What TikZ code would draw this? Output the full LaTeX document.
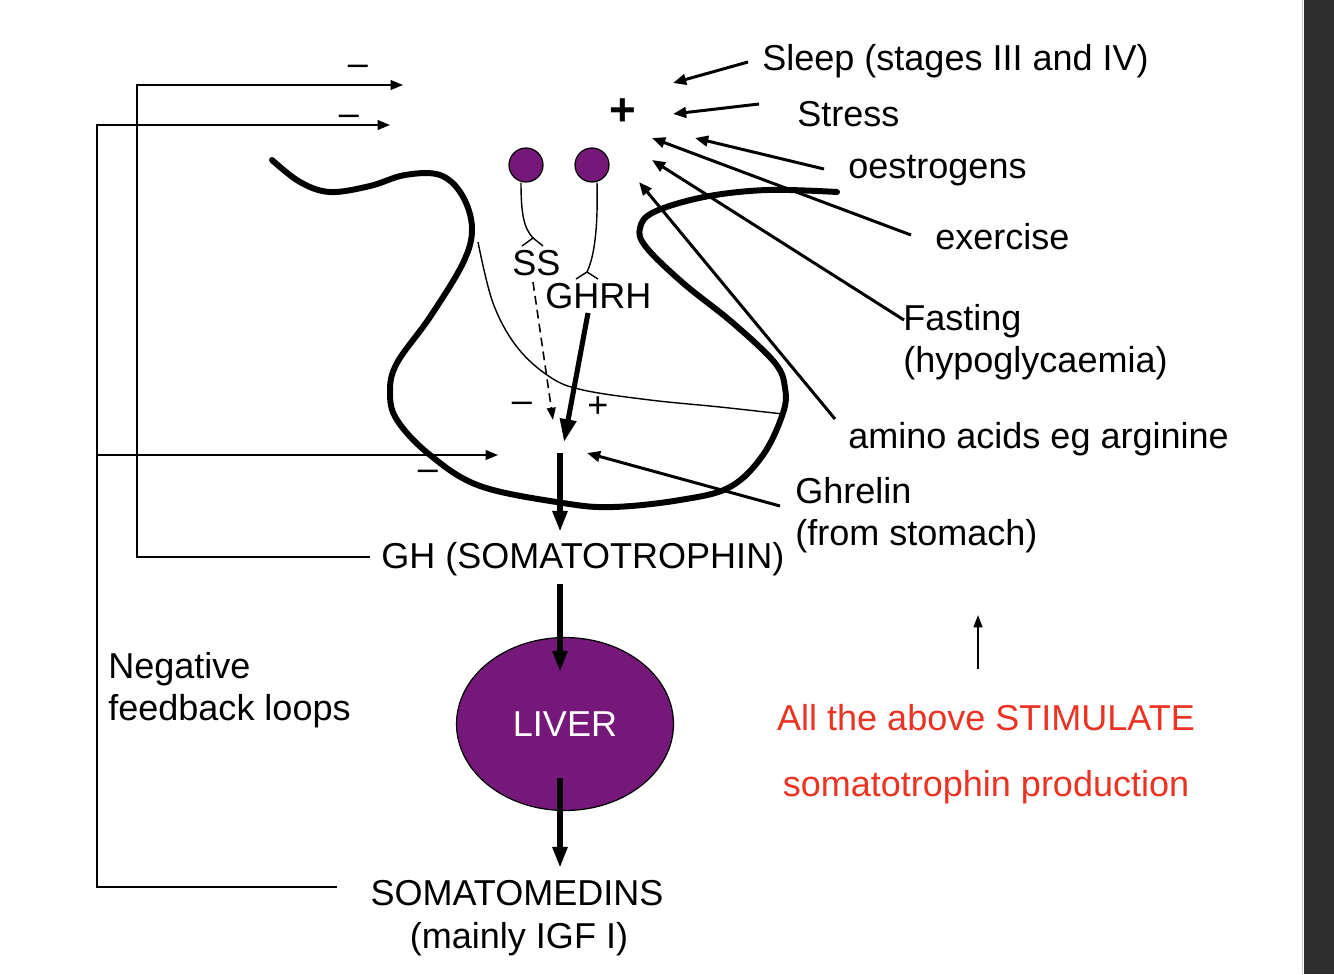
\documentclass[tikz,border=0pt]{standalone}
\usepackage{fontspec}
\setmainfont{Liberation Sans}
\usetikzlibrary{arrows.meta,shapes.geometric}
\definecolor{purp}{RGB}{118,24,122}
\definecolor{redtxt}{RGB}{235,51,36}
\definecolor{barcol}{RGB}{45,45,45}
\definecolor{baredge}{RGB}{200,200,200}
\begin{document}
\begin{tikzpicture}[x=0.02cm,y=-0.02cm,
  txt/.style={font=\fontsize{20.5}{24}\selectfont, inner sep=0pt},
  lbl/.style={txt, anchor=base west},
  lblc/.style={txt, anchor=base},
  stim/.style={line width=1.7pt, -{Triangle[length=7.5pt,width=6pt]}},
  fb/.style={line width=1pt, -{Triangle[length=7pt,width=5.5pt]}},
  outline/.style={line width=3.4pt, line cap=round, line join=round},
  thinline/.style={line width=0.8pt},
  bigarrow/.style={line width=3.4pt, -{Triangle[length=12pt,width=8pt]}},
  cell/.style={circle, fill=purp, draw=black, line width=0.7pt, minimum size=0.68cm, inner sep=0pt},
  plus/.style={font=\fontsize{26}{30}\selectfont\bfseries, inner sep=0pt, anchor=base},
]
\useasboundingbox (0,0) rectangle (1334,974);
\fill[white] (0,0) rectangle (1334,974);
% right dark bar
\fill[barcol] (1304,0) rectangle (1334,974);
\draw[baredge, line width=0.6pt] (1302.5,0) -- (1302.5,974);

% ---------- outline of hypothalamus / pituitary ----------
\draw[outline] plot[smooth, tension=0.6] coordinates {
 (272,160) (300,182) (330,192) (370,186) (405,175) (440,175) (462,195)
 (472,228) (463,263) (430,317) (397,363) (390,392) (397,420) (430,455)
 (480,486) (563,503) (613,507) (680,500) (730,487) (763,455) (783,413)
 (785,388) (775,363) (733,323) (683,283) (646,247) (640,228) (654,212)
 (704,197) (767,190) (837,192)};
% thin stalk line
\draw[thinline] plot[smooth, tension=0.6] coordinates {
 (478,242) (493,303) (517,347) (550,377) (583,390) (650,400) (720,407) (783,414)};

% ---------- neurons ----------
\node[cell] (n1) at (526,165) {};
\node[cell] (n2) at (592,165) {};
\coordinate (a1) at (533,238);
\coordinate (a2) at (587,272);
\draw[thinline] (n1.south) ++(-5,0) .. controls (521,215) and (524,228) .. (a1);
\draw[thinline] (522,246) -- (a1) -- (543,246);
\draw[thinline] (n2.south) ++(5,0) .. controls (598,225) and (595,255) .. (a2);
\draw[thinline] (576,279) -- (a2) -- (598,279);

\node[lbl] (ss) at (512,275) {SS};
\node[lbl] (ghrh) at (545,308) {GHRH};

% SS dashed and GHRH thick arrows
\coordinate (ssS) at (533,282);
\coordinate (ssE) at (553,420);
\draw[line width=0.9pt, dash pattern=on 5pt off 3pt, -{Triangle[length=7pt,width=5pt]}] (ssS) -- (ssE);
\coordinate (ghrhS) at (588,313);
\coordinate (ghrhE) at (564,442);
\draw[line width=2.9pt, -{Triangle[length=13pt,width=9pt]}] (ghrhS) -- (ghrhE);

\node[txt, anchor=base] (m1) at (522,412) {–};
\node[txt, anchor=base] (p1) at (598,417) {+};

% ---------- stimuli ----------
\node[plus] (plus) at (623,125) {+};
\node[lbl] (sleep) at (762,70) {Sleep (stages III and IV)};
\node[lbl] (stress) at (797,126) {Stress};
\node[lbl] (oest) at (848,178) {oestrogens};
\node[lbl] (exer) at (935,249) {exercise};
\node[lbl] (fast) at (903,330) {Fasting};
\node[lbl] (hypo) at (903,372) {(hypoglycaemia)};
\node[lbl] (amino) at (848,448) {amino acids eg arginine};
\node[lbl] (ghrelin) at (795,503) {Ghrelin};
\node[lbl] (stomach) at (795,545) {(from stomach)};

\coordinate (sleepS) at (748,62);  \coordinate (sleepE) at (673,83);
\coordinate (stressS) at (759,104); \coordinate (stressE) at (673,114);
\coordinate (oestS) at (824,169);  \coordinate (oestE) at (695,138);
\coordinate (exerS) at (911,235);  \coordinate (exerE) at (652,138);
\coordinate (fastS) at (904,320);  \coordinate (fastE) at (652,160);
\coordinate (aminoS) at (835,419); \coordinate (aminoE) at (639,182);
\coordinate (ghrelS) at (780,506); \coordinate (ghrelE) at (587,453);
\draw[stim] (sleepS) -- (sleepE);
\draw[stim] (stressS) -- (stressE);
\draw[stim] (oestS) -- (oestE);
\draw[stim] (exerS) -- (exerE);
\draw[stim] (fastS) -- (fastE);
\draw[stim] (aminoS) -- (aminoE);
\draw[stim] (ghrelS) -- (ghrelE);

% ---------- main cascade ----------
\node[lbl] (gh) at (381,568) {GH (SOMATOTROPHIN)};
\node[ellipse, fill=purp, draw=black, line width=0.7pt, minimum width=4.34cm,
      minimum height=3.46cm, inner sep=0pt, text=white,
      font=\fontsize{20.5}{24}\selectfont] (liver) at (565,724) {LIVER};
\node[lblc] (somato) at (517,905) {SOMATOMEDINS};
\node[lblc] (igf) at (519,948) {(mainly IGF I)};

\coordinate (g1S) at (560,453); \coordinate (g1E) at (560,532);
\coordinate (g2S) at (560,584); \coordinate (g2E) at (560,672);
\coordinate (g3S) at (560,778); \coordinate (g3E) at (560,868);
\draw[bigarrow] (g1S) -- (g1E);
\draw[bigarrow] (g2S) -- (g2E);
\draw[bigarrow] (g3S) -- (g3E);

% ---------- negative feedback ----------
\coordinate (fbAs) at (337,887); \coordinate (fbAc) at (97,125); \coordinate (fbAe) at (390,125);
\coordinate (fbBs) at (370,557); \coordinate (fbBc) at (137,85); \coordinate (fbBe) at (403,85);
\coordinate (fbCs) at (97,455);  \coordinate (fbCe) at (498,455);
\draw[fb] (fbAs) -| (fbAc) -- (fbAe);
\draw[fb] (fbBs) -| (fbBc) -- (fbBe);
\draw[fb] (fbCs) -- (fbCe);
\node[txt, anchor=base] (m2) at (358,75) {–};
\node[txt, anchor=base] (m3) at (349,125) {–};
\node[txt, anchor=base] (m4) at (428,480) {–};

\node[lbl] (neg) at (108,678) {Negative};
\node[lbl] (fbl) at (108,720) {feedback loops};

% ---------- summary ----------
\coordinate (upS) at (978,669); \coordinate (upE) at (978,615);
\draw[line width=1pt, -{Triangle[length=7pt,width=5pt]}] (upS) -- (upE);
\node[lblc, text=redtxt] (red1) at (986,730) {All the above STIMULATE};
\node[lblc, text=redtxt] (red2) at (986,796) {somatotrophin production};
\end{tikzpicture}
\end{document}
